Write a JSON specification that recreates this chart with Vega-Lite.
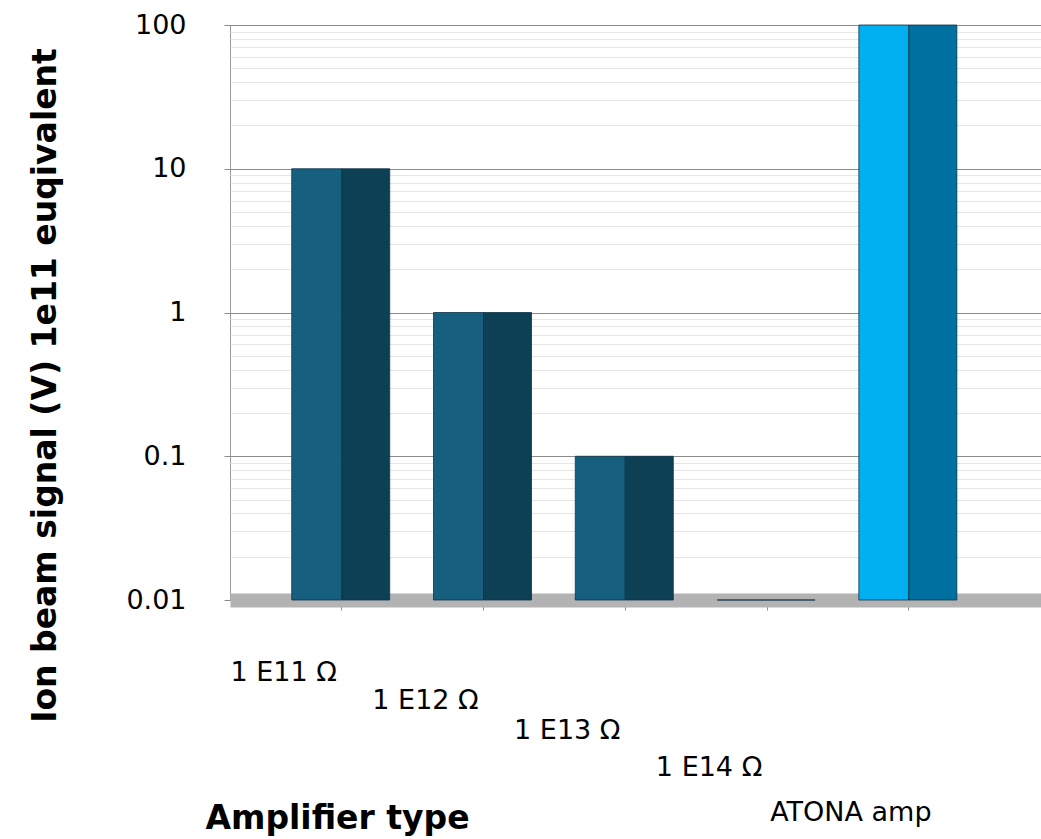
{
  "$schema": "https://vega.github.io/schema/vega-lite/v6.json",
  "width": 811,
  "height": 575,
  "autosize": {"type": "none"},
  "padding": {"left": 230, "top": 25, "right": 0, "bottom": 239},
  "background": "white",
  "config": {"view": {"stroke": "#9a9a9a", "strokeWidth": 1}, "font": "DejaVu Sans"},
  "data": {
    "values": [
      {"amp": "1 E11 Ω", "signal": 10},
      {"amp": "1 E12 Ω", "signal": 1},
      {"amp": "1 E13 Ω", "signal": 0.1},
      {"amp": "1 E14 Ω", "signal": 0.01},
      {"amp": "ATONA amp", "signal": 100}
    ]
  },
  "encoding": {
    "x": {
      "field": "amp",
      "type": "nominal",
      "sort": null,
      "scale": {"paddingInner": 0, "paddingOuter": 0.36, "align": 0.4},
      "axis": {
        "title": "Amplifier type",
        "titleFont": "DejaVu Sans",
        "titleFontSize": 33,
        "titleFontWeight": "bold",
        "titleColor": "black",
        "titleX": 107,
        "titleY": 218,
        "titleAlign": "center",
        "titleBaseline": "middle",
        "labelAngle": 0,
        "labelFontSize": 27,
        "labelColor": "black",
        "labelOffset": -58,
        "labelBaseline": "middle",
        "labelAlign": "center",
        "labelLimit": 0,
        "labelPadding": {
          "condition": [
            {"test": "datum.value === '1 E12 Ω'", "value": 90},
            {"test": "datum.value === '1 E13 Ω'", "value": 120},
            {"test": "datum.value === '1 E14 Ω'", "value": 157},
            {"test": "datum.value === 'ATONA amp'", "value": 202}
          ],
          "value": 62
        },
        "tickSize": 10,
        "tickColor": "#8c8c8c",
        "domainColor": "#b3b3b3",
        "domainWidth": 14,
        "grid": false,
        "zindex": 0
      }
    },
    "y": {
      "field": "signal",
      "type": "quantitative",
      "scale": {"type": "log", "domain": [0.01, 100]},
      "axis": {
        "values": [0.01, 0.02, 0.03, 0.04, 0.05, 0.06, 0.07, 0.08, 0.09, 0.1, 0.2, 0.3, 0.4, 0.5, 0.6, 0.7, 0.8, 0.9, 1, 2, 3, 4, 5, 6, 7, 8, 9, 10, 20, 30, 40, 50, 60, 70, 80, 90, 100],
        "labelExpr": "abs(log(datum.value)/LN10 - round(log(datum.value)/LN10)) < 0.000001 ? format(datum.value, '~g') : ''",
        "title": "Ion beam signal (V) 1e11 euqivalent",
        "titleFont": "DejaVu Sans",
        "titleFontSize": 33,
        "titleFontWeight": "bold",
        "titleColor": "black",
        "titleX": -185,
        "titleY": 360,
        "titleAngle": -90,
        "titleAlign": "center",
        "titleBaseline": "middle",
        "labelFontSize": 27,
        "labelColor": "black",
        "labelPadding": 38,
        "tickSize": 6,
        "tickColor": "#8c8c8c",
        "tickOpacity": {
          "condition": {"test": "abs(log(datum.value)/LN10 - round(log(datum.value)/LN10)) < 0.000001", "value": 1},
          "value": 0
        },
        "gridColor": {
          "condition": {"test": "abs(log(datum.value)/LN10 - round(log(datum.value)/LN10)) < 0.000001", "value": "#8c8c8c"},
          "value": "#e6e6e6"
        },
        "domain": false,
        "zindex": 0
      }
    },
    "y2": {"datum": 0.01}
  },
  "layer": [
    {
      "mark": {"type": "bar", "width": 50, "xOffset": -25, "stroke": "#0c3346", "strokeWidth": 0.8},
      "encoding": {
        "color": {
          "condition": {"test": "datum.amp === 'ATONA amp'", "value": "#00b0f0"},
          "value": "#175f7e"
        }
      }
    },
    {
      "mark": {"type": "bar", "width": 48, "xOffset": 24, "stroke": "#0c3346", "strokeWidth": 0.8},
      "encoding": {
        "color": {
          "condition": {"test": "datum.amp === 'ATONA amp'", "value": "#0070a0"},
          "value": "#0d3f55"
        }
      }
    }
  ]
}
